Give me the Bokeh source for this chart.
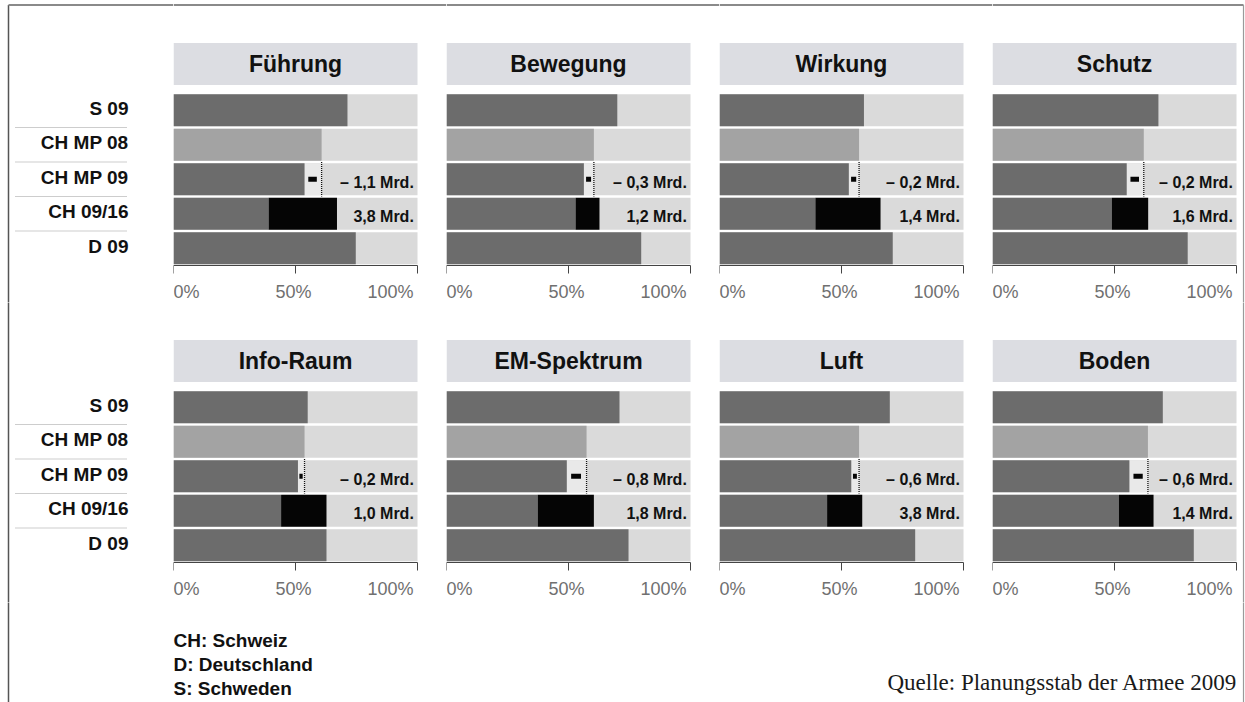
from bokeh.plotting import figure
from bokeh.models import Range1d, LinearAxis, FixedTicker
from bokeh.layouts import column, row
from bokeh.embed import file_html
from bokeh.resources import INLINE
from bokeh.core.properties import value

# ---------------- data ----------------
panels = ["Führung", "Bewegung", "Wirkung", "Schutz",
          "Info-Raum", "EM-Spektrum", "Luft", "Boden"]
rows = ["S 09", "CH MP 08", "CH MP 09", "CH 09/16", "D 09"]
s09 = [71.3, 70.0, 59.2, 68.0, 55.0, 70.9, 69.8, 69.8]
ch_mp08 = [60.7, 60.4, 57.2, 62.0, 53.7, 57.4, 57.2, 63.7]
ch_mp09 = [53.7, 56.3, 53.0, 55.0, 51.0, 49.3, 54.0, 56.1]
ch0916_base = [39.0, 52.9, 39.3, 48.9, 44.1, 37.4, 44.1, 51.8]
ch0916_total = [67.0, 62.7, 66.0, 63.8, 62.7, 60.4, 58.5, 66.0]
d09 = [74.7, 79.8, 71.0, 80.0, 62.7, 74.6, 80.2, 82.5]
delta_mp09 = ["– 1,1 Mrd.", "– 0,3 Mrd.", "– 0,2 Mrd.", "– 0,2 Mrd.",
              "– 0,2 Mrd.", "– 0,8 Mrd.", "– 0,6 Mrd.", "– 0,6 Mrd."]
delta_0916 = ["3,8 Mrd.", "1,2 Mrd.", "1,4 Mrd.", "1,6 Mrd.",
              "1,0 Mrd.", "1,8 Mrd.", "3,8 Mrd.", "1,4 Mrd."]
tick_values = [0, 50, 100]
tick_labels = ["0%", "50%", "100%"]
legend_lines = ["CH: Schweiz", "D: Deutschland", "S: Schweden"]
source_note = "Quelle: Planungsstab der Armee 2009"

# ---------------- layout / style (pixels) ----------------
WIN_W, WIN_H = 1245, 702
LABEL_W = 173
PLOT_W = 244
PITCH_X = 273
ROW_TOPS = [0, 302]          # global top of each row of figures
ROW_HEIGHTS = [302, 300]
ROW_SHIFT = [0, 297]         # vertical shift of the panel content per row
FOOT_TOP = 602
FOOT_H = WIN_H - FOOT_TOP
BAR_TOP = 92.5
ROW_PX = 34.5
BASE_SHIFT = 0.37            # alphabetic baseline correction (em)
SANS = value("Liberation Sans")
SERIF = value("Liberation Serif")

BG = "#dadada"
DARK = "#6c6c6c"
MID = "#a3a3a3"
GAP = "#e9e9e9"
BLACK = "#050505"
TITLE_BG = "#dcdde2"
FRAME_TOP = "#8a8a8a"
FRAME_LEFT = "#555555"
FRAME_RIGHT = "#9a9a9a"
RIGHT_BORDER_PX = 1243


def make_yv(r):
    def yv(px_global):
        return (px_global - (BAR_TOP + ROW_SHIFT[r])) / ROW_PX - 0.5
    return yv


def base_y(px_baseline, fs):
    return px_baseline - BASE_SHIFT * fs


def base_fig(w, h, xr, yr):
    p = figure(width=w, height=h, x_range=xr, y_range=yr,
               output_backend="svg", toolbar_location=None, min_border=0,
               x_axis_location=None, y_axis_location=None, title=None)
    p.outline_line_color = None
    p.grid.visible = False
    p.background_fill_color = "white"
    p.border_fill_color = "white"
    return p


def row_range(r):
    yv = make_yv(r)
    return Range1d(yv(ROW_TOPS[r] + ROW_HEIGHTS[r]), yv(ROW_TOPS[r]))


def panel(k, col, r):
    yv = make_yv(r)
    sh = ROW_SHIFT[r]
    top_row = r == 0
    last = col == 3
    w = WIN_W - LABEL_W - 3 * PITCH_X if last else PITCH_X
    x_end = 100.0 * w / PLOT_W
    p = base_fig(w, ROW_HEIGHTS[r], Range1d(0, x_end), row_range(r))

    # title box
    p.quad(left=[0], right=[100], top=[yv(42.5 + sh)], bottom=[yv(84.5 + sh)],
           fill_color=TITLE_BG, line_color=None)
    p.text(x=[50], y=[yv(base_y(72.5 + sh, 23))], text=[panels[k]], text_align="center",
           text_baseline="alphabetic", text_font=SANS, text_font_style="bold",
           text_font_size="23px", text_color="#111111")

    h = 0.93
    ys = list(range(len(rows)))
    p.hbar(y=ys, left=0, right=100, height=h, fill_color=BG, line_color=None)
    p.hbar(y=[0], left=0, right=[s09[k]], height=h, fill_color=DARK, line_color=None)
    p.hbar(y=[1], left=0, right=[ch_mp08[k]], height=h, fill_color=MID, line_color=None)
    p.hbar(y=[2], left=[ch_mp09[k]], right=[ch_mp08[k]], height=h, fill_color=GAP, line_color=None)
    p.hbar(y=[2], left=0, right=[ch_mp09[k]], height=h, fill_color=DARK, line_color=None)
    p.hbar(y=[3], left=0, right=[ch0916_base[k]], height=h, fill_color=DARK, line_color=None)
    p.hbar(y=[3], left=[ch0916_base[k]], right=[ch0916_total[k]], height=h,
           fill_color=BLACK, line_color=None)
    p.hbar(y=[4], left=0, right=[d09[k]], height=h, fill_color=DARK, line_color=None)

    # reduction marker + dotted reference line
    g = ch_mp08[k] - ch_mp09[k]
    p.segment(x0=[ch_mp09[k] + 0.22 * g], x1=[ch_mp08[k] - 0.28 * g], y0=[2], y1=[2],
              line_width=5, line_color=BLACK, line_cap="butt")
    p.segment(x0=[ch_mp08[k]], x1=[ch_mp08[k]], y0=[1.5], y1=[2.5],
              line_width=1.3, line_color="#111111", line_dash="1 1")

    # value labels (baseline a little below row centre)
    lab_y = [(base_y(BAR_TOP + sh + ROW_PX * (i + 0.5) + 9, 16) - BAR_TOP - sh) / ROW_PX - 0.5
             for i in (2, 3)]
    p.text(x=[98.5, 98.5], y=lab_y, text=[delta_mp09[k], delta_0916[k]],
           text_align="right", text_baseline="alphabetic", text_font=SANS,
           text_font_style="bold", text_font_size="16px", text_color="#111111")

    ax = LinearAxis(ticker=FixedTicker(ticks=tick_values), fixed_location=len(rows) - 0.5,
                    bounds=(0, 100), major_label_text_color=None,
                    major_tick_in=0, major_tick_out=8, minor_tick_line_color=None,
                    axis_line_color="#444444", major_tick_line_color="#444444",
                    axis_line_width=1, major_tick_line_width=1)
    p.add_layout(ax, "below")

    for v, lab, al, off in zip(tick_values, tick_labels, ["left", "center", "right"], [0, -2, -4]):
        p.text(x=[v], y=[yv(base_y(298.3 + sh, 18))], text=[lab], text_align=al, x_offset=off,
               text_baseline="alphabetic", text_font=SANS, text_font_size="18px",
               text_color="#707070")

    xb = (RIGHT_BORDER_PX - (LABEL_W + 3 * PITCH_X)) / PLOT_W * 100
    if top_row:
        x1 = xb if last else x_end
        p.segment(x0=[0], x1=[x1], y0=[yv(4.5)], y1=[yv(4.5)],
                  line_color=FRAME_TOP, line_width=2)
    if last:
        p.segment(x0=[xb], x1=[xb], y0=[yv(4.5) if top_row else yv(ROW_TOPS[r] - 5)],
                  y1=[yv(ROW_TOPS[r] + ROW_HEIGHTS[r] + 5)],
                  line_color=FRAME_RIGHT, line_width=1.2)
    return p


def label_fig(r):
    yv = make_yv(r)
    top_row = r == 0
    p = base_fig(LABEL_W, ROW_HEIGHTS[r], Range1d(0, LABEL_W), row_range(r))
    ys = list(range(len(rows)))
    lab_y = [(base_y(BAR_TOP + ROW_PX * (y + 0.5) + 4.8, 19) - BAR_TOP) / ROW_PX - 0.5 for y in ys]
    p.text(x=[128] * len(rows), y=lab_y, text=rows, text_align="right",
           text_baseline="alphabetic", text_font=SANS, text_font_style="bold",
           text_font_size="19px", text_color="#111111")
    seps = [y + 0.5 for y in ys[:-1]]
    p.segment(x0=[15] * len(seps), x1=[127] * len(seps), y0=seps, y1=seps,
              line_color="#9a9a9a", line_width=1, line_dash="1 1")
    p.segment(x0=[8], x1=[8], y0=[yv(4.5) if top_row else yv(ROW_TOPS[r] - 5)],
              y1=[yv(ROW_TOPS[r] + ROW_HEIGHTS[r] + 5)],
              line_color=FRAME_LEFT, line_width=1.5)
    if top_row:
        p.segment(x0=[8], x1=[LABEL_W], y0=[yv(4.5)], y1=[yv(4.5)],
                  line_color=FRAME_TOP, line_width=2)
    return p


def footer():
    p = base_fig(WIN_W, FOOT_H, Range1d(0, WIN_W), Range1d(FOOT_H, 0))
    ly = [base_y(646.7 + 24 * i, 19) - FOOT_TOP for i in range(len(legend_lines))]
    p.text(x=[173] * len(legend_lines), y=ly, text=legend_lines,
           text_align="left", text_baseline="alphabetic", text_font=SANS,
           text_font_style="bold", text_font_size="19px", text_color="#111111")
    p.text(x=[1237], y=[base_y(691, 23) - FOOT_TOP], text=[source_note], text_align="right",
           text_baseline="alphabetic", text_font=SERIF, text_font_size="23px",
           text_color="#1a1a1a")
    p.segment(x0=[8], x1=[8], y0=[-5], y1=[FOOT_H + 5], line_color=FRAME_LEFT, line_width=1.5)
    p.segment(x0=[RIGHT_BORDER_PX], x1=[RIGHT_BORDER_PX], y0=[-5], y1=[FOOT_H + 5],
              line_color=FRAME_RIGHT, line_width=1.2)
    return p


row1 = row(label_fig(0), *[panel(k, k, 0) for k in range(4)], spacing=0)
row2 = row(label_fig(1), *[panel(k, k - 4, 1) for k in range(4, 8)], spacing=0)
layout = column(row1, row2, footer(), spacing=0)

open("out.html", "w").write(file_html(layout, INLINE))
